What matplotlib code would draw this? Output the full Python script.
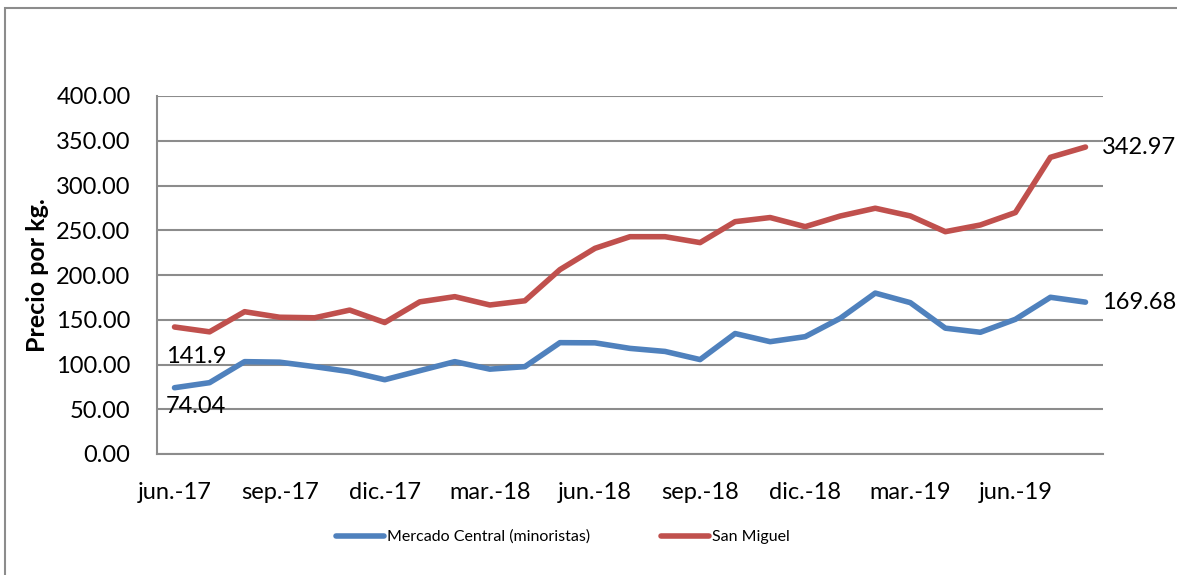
import matplotlib
matplotlib.use("Agg")
import matplotlib.pyplot as plt
from matplotlib.patches import Rectangle

plt.rcParams['font.family'] = ['Lato', 'DejaVu Sans']

months = ["jun.-17", "jul.-17", "ago.-17", "sep.-17", "oct.-17", "nov.-17", "dic.-17",
          "ene.-18", "feb.-18", "mar.-18", "abr.-18", "may.-18", "jun.-18", "jul.-18",
          "ago.-18", "sep.-18", "oct.-18", "nov.-18", "dic.-18", "ene.-19", "feb.-19",
          "mar.-19", "abr.-19", "may.-19", "jun.-19", "jul.-19", "ago.-19"]

mercado_central = [74.04, 79.7, 103.2, 102.6, 97.6, 92.0, 83.0, 93.1, 103.2, 94.8, 97.6,
                   124.4, 124.2, 118.0, 114.6, 105.5, 134.6, 125.5, 131.1, 151.6, 179.8,
                   169.1, 140.6, 136.0, 150.5, 175.1, 169.68]

san_miguel = [141.9, 136.5, 159.0, 152.8, 152.2, 160.8, 146.9, 170.0, 175.8, 166.5, 171.2,
              206.0, 229.8, 242.8, 242.8, 236.2, 259.6, 264.2, 254.0, 265.9, 274.6,
              266.0, 248.4, 255.9, 269.8, 331.5, 342.97]

yticks = [0, 50, 100, 150, 200, 250, 300, 350, 400]

W, H = 1177, 575
fig = plt.figure(figsize=(W / 100, H / 100), dpi=100)
fig.patch.set_facecolor("white")

# outer chart border
fig.patches.append(Rectangle((5 / W, -0.05), 1.1, 1 - 8 / H + 0.05, transform=fig.transFigure,
                             fill=False, edgecolor="#8c8c8c", linewidth=1.5))

ax = fig.add_axes([157 / W, 1 - 454 / H, (1103 - 157) / W, (454 - 96) / H])

x = list(range(len(months)))
blue = "#4f81bd"
red = "#c0504d"
ax.plot(x, mercado_central, color=blue, linewidth=4, solid_capstyle="round",
        solid_joinstyle="round", label="Mercado Central (minoristas)", zorder=3)
ax.plot(x, san_miguel, color=red, linewidth=4, solid_capstyle="round",
        solid_joinstyle="round", label="San Miguel", zorder=3)

ax.set_xlim(-0.5, len(months) - 0.5)
ax.set_ylim(0, 400)
ax.set_yticks(yticks)
ax.set_yticklabels([f"{v:.2f}" for v in yticks], fontsize=17)
ax.set_xticks(x[::3])
ax.set_xticklabels(months[::3], fontsize=17)
ax.tick_params(axis="y", length=0, pad=19)
ax.tick_params(axis="x", length=0, pad=20)
ax.grid(axis="y", color="#8c8c8c", linewidth=1.5)
ax.set_axisbelow(True)
for s in ["top", "right"]:
    ax.spines[s].set_visible(False)
for s in ["left", "bottom"]:
    ax.spines[s].set_color("#8c8c8c")
    ax.spines[s].set_linewidth(1.5)

ax.set_ylabel("Precio por kg.", fontsize=18, fontweight="bold", labelpad=5)

# data labels
ax.annotate(f"{san_miguel[0]}", (x[0], san_miguel[0]), xytext=(-6, -14),
            textcoords="offset points", fontsize=17, ha="left", va="top")
ax.annotate(f"{mercado_central[0]}", (x[0], mercado_central[0]), xytext=(-6, -6),
            textcoords="offset points", fontsize=17, ha="left", va="top")
ax.annotate(f"{san_miguel[-1]:.2f}", (x[-1], san_miguel[-1]), xytext=(12, 0),
            textcoords="offset points", fontsize=17, ha="left", va="center",
            annotation_clip=False)
ax.annotate(f"{mercado_central[-1]:.2f}", (x[-1], mercado_central[-1]), xytext=(12, 0),
            textcoords="offset points", fontsize=17, ha="left", va="center",
            annotation_clip=False)

fig.legend(loc="center", bbox_to_anchor=(563 / W, 1 - 537 / H), ncol=2, frameon=False,
           fontsize=11.5, handlelength=3.0, handletextpad=0.2, columnspacing=4.4)

fig.savefig("out.png", dpi=100)
